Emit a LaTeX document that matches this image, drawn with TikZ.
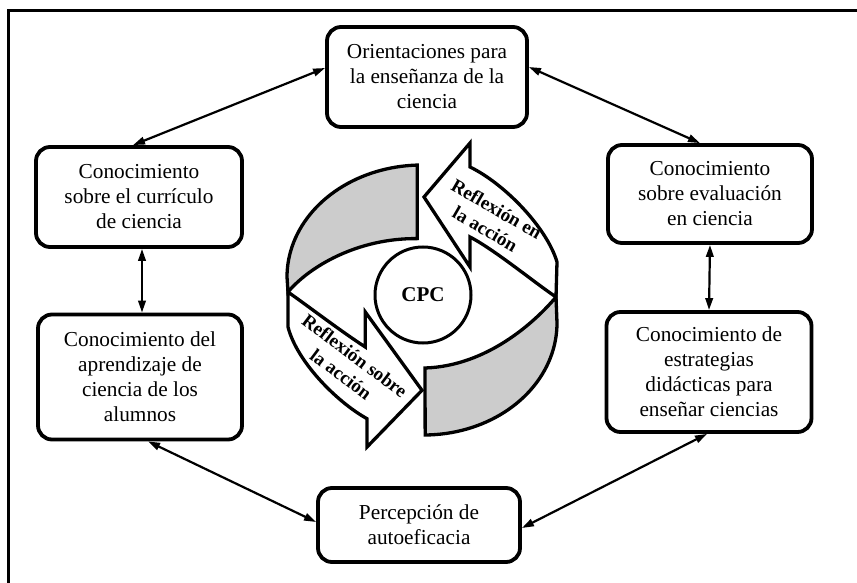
\documentclass[tikz,border=0pt]{standalone}
\usepackage{fontspec}
\setmainfont{Liberation Serif}
\usetikzlibrary{arrows.meta,calc}
\definecolor{bandgrey}{RGB}{204,204,204}
\begin{document}
\begin{tikzpicture}[x=1pt,y=-1pt,
  box/.style={draw, line width=3.8pt, rounded corners=14pt, align=center, inner sep=0pt, fill=white,
    font=\fontsize{21.3}{25}\selectfont},
  link/.style={line width=2.2pt, {Triangle[length=12pt,width=7.5pt]}-{Triangle[length=12pt,width=7.5pt]}},
  rib/.style={line width=3.3pt, line join=miter},
  ribtext/.style={font=\bfseries\fontsize{19}{23}\selectfont, align=center}]
\useasboundingbox (0,0) rectangle (857,583);
\draw[line width=3pt] (8,583) -- (8,11) -- (857,11);

% boxes
\node[box, minimum width=200pt, minimum height=100pt] (ori) at (427,77) {Orientaciones para\\la enseñanza de la\\ciencia};
\node[box, minimum width=206pt, minimum height=100pt] (cur) at (139,197) {Conocimiento\\sobre el currículo\\de ciencia};
\node[box, minimum width=204pt, minimum height=125pt] (apr) at (140,377) {Conocimiento del\\aprendizaje de\\ciencia de los\\alumnos};
\node[box, minimum width=204pt, minimum height=98pt] (eva) at (710,194) {Conocimiento\\sobre evaluación\\en ciencia};
\node[box, minimum width=205pt, minimum height=120pt] (est) at (709,372) {Conocimiento de\\estrategias\\didácticas para\\enseñar ciencias};
\node[box, minimum width=202pt, minimum height=74pt] (per) at (419,525) {Percepción de\\autoeficacia};

% connectors
\draw[link] ([yshift=9pt]ori.west) -- ([xshift=-6pt]cur.north);
\draw[link] ([yshift=10pt]ori.east) -- ([xshift=-10pt]eva.north);
\draw[link] ([xshift=3pt]cur.south) -- ([xshift=2pt]apr.north);
\draw[link] (eva.south) -- (est.north);
\draw[link] ([xshift=8pt]apr.south) -- ([yshift=3pt]per.west);
\draw[link] ([xshift=-2pt]est.south) -- ([yshift=-3pt]per.east);

% central cycle: upper-left grey band
\filldraw[rib, fill=bandgrey]
  plot[domain=92:180, samples=40, variable=\t] ({422+135*cos(\t)},{277-112*sin(\t)})
  -- (288,292) .. controls (309,267) and (357,238) .. (417.3,238.6) -- cycle;
% lower-left white arrow
\filldraw[rib, fill=white]
  (288,292) .. controls (312,309) and (342,332) .. (365.3,347)
  -- (365.3,312) -- (422,390.3) -- (367,447) -- (367,418.7)
  .. controls (337,402) and (297,362) .. (288,327) -- cycle;
% lower-right grey band
\filldraw[rib, fill=bandgrey]
  plot[domain=-89.5:0, samples=40, variable=\t] ({424+133*cos(\t)},{323-112*sin(\t)})
  -- (556,297) .. controls (535,322) and (487,366) .. (425,368) -- cycle;
% upper-right white arrow
\filldraw[rib, fill=white]
  (556,297) .. controls (535,283) and (495,250) .. (470,237)
  -- (470,267) -- (424,197) -- (470,143) -- (470,167)
  .. controls (505,184) and (547,228) .. (557,262) -- cycle;

\node[circle, draw, line width=3pt, fill=white, minimum size=96pt, inner sep=0pt,
  font=\bfseries\fontsize{21}{21}\selectfont] (cpc) at (423,295) {CPC};
\node[ribtext, rotate=-37] (rs) at (348,365) {Reflexión sobre\\la acción};
\node[ribtext, rotate=-30] (re) at (491,219) {Reflexión en\\la acción};
\end{tikzpicture}
\end{document}
